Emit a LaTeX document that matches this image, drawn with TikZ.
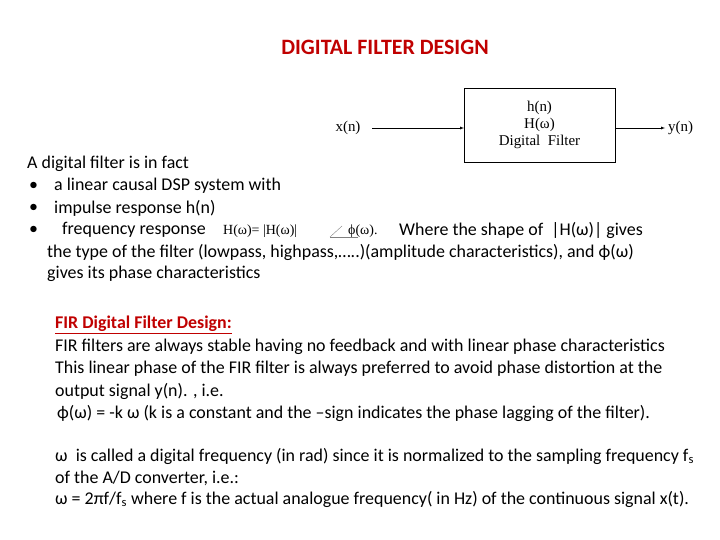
\documentclass[tikz,border=0pt]{standalone}
\usepackage{fontspec}
\setmainfont{Carlito}
\newfontfamily\tms{Liberation Serif}
\definecolor{ttl}{HTML}{C00000}
\begin{document}
\begin{tikzpicture}[x=1bp,y=-1bp,
  txt/.style={anchor=west,inner sep=0pt,font=\fontsize{18}{21}\selectfont},
  ser/.style={inner sep=0pt,font=\tms\fontsize{15}{17}\selectfont},
  arr/.style={-latex,thin}]
\useasboundingbox (0,0) rectangle (720,540);
\node[font=\bfseries\fontsize{22}{26}\selectfont,text=ttl] (title) at (385,47) {DIGITAL FILTER DESIGN};
\draw[thin] (464,88) rectangle (615,162);
\node[ser,align=center] (box) at (539.5,125) {h(n)\\H(ω)\\Digital\ \ Filter};
\coordinate (bl) at (464,128); \coordinate (br) at (615,128);
\node[ser] (x) at (348,128) {x(n)};
\node[ser,anchor=west] (y) at (668,128) {y(n)};
\draw[arr] (372,128) -- (bl);
\draw[arr] (br) -- (665,128);
\node[txt] (l1) at (27,164) {A digital filter is in fact};
\node[txt] (b1) at (29,186) {•};
\node[txt] (l2) at (54,186) {a linear causal DSP system with};
\node[txt] (b2) at (29,208) {•};
\node[txt] (l3) at (54,208) {impulse response h(n)};
\node[txt] (b3) at (29,230) {•};
\node[txt] (l4) at (62,230) {frequency response};
\node[ser,anchor=west,font=\tms\fontsize{14}{16}\selectfont] (hf) at (223,231) {H(ω)= |H(ω)|};
\draw[thin,gray] (330,237) -- (342,226);
\draw[thin,gray] (330,237) -- (358,237);
\node[ser,anchor=west,font=\tms\fontsize{14}{16}\selectfont] (ph) at (348,231) {ϕ(ω).};
\node[txt] (l5) at (399,230) {Where the shape of \ |H(ω)| gives};
\node[txt] (l6) at (47,252) {the type of the filter (lowpass, highpass,…..)(amplitude characteristics), and ϕ(ω)};
\node[txt] (l7) at (47,274) {gives its phase characteristics};
\node[txt,font=\bfseries\fontsize{18}{21}\selectfont,text=ttl] (f0) at (55,325) {\underline{FIR Digital Filter Design:}};
\node[txt] (f1) at (55,347) {FIR filters are always stable having no feedback and with linear phase characteristics};
\node[txt] (f2) at (55,369) {This linear phase of the FIR filter is always preferred to avoid phase distortion at the};
\node[txt] (f3) at (55,391) {output signal y(n). , i.e.};
\node[txt] (f4) at (57,413) {ϕ(ω) = -k ω (k is a constant and the –sign indicates the phase lagging of the filter).};
\node[txt] (f5) at (55,456) {ω \ is called a digital frequency (in rad) since it is normalized to the sampling frequency f\textsubscript{s}};
\node[txt] (f6) at (55,478) {of the A/D converter, i.e.:};
\node[txt] (f7) at (55,499) {ω = 2πf/f\textsubscript{s} where f is the actual analogue frequency( in Hz) of the continuous signal x(t).};
\end{tikzpicture}
\end{document}
